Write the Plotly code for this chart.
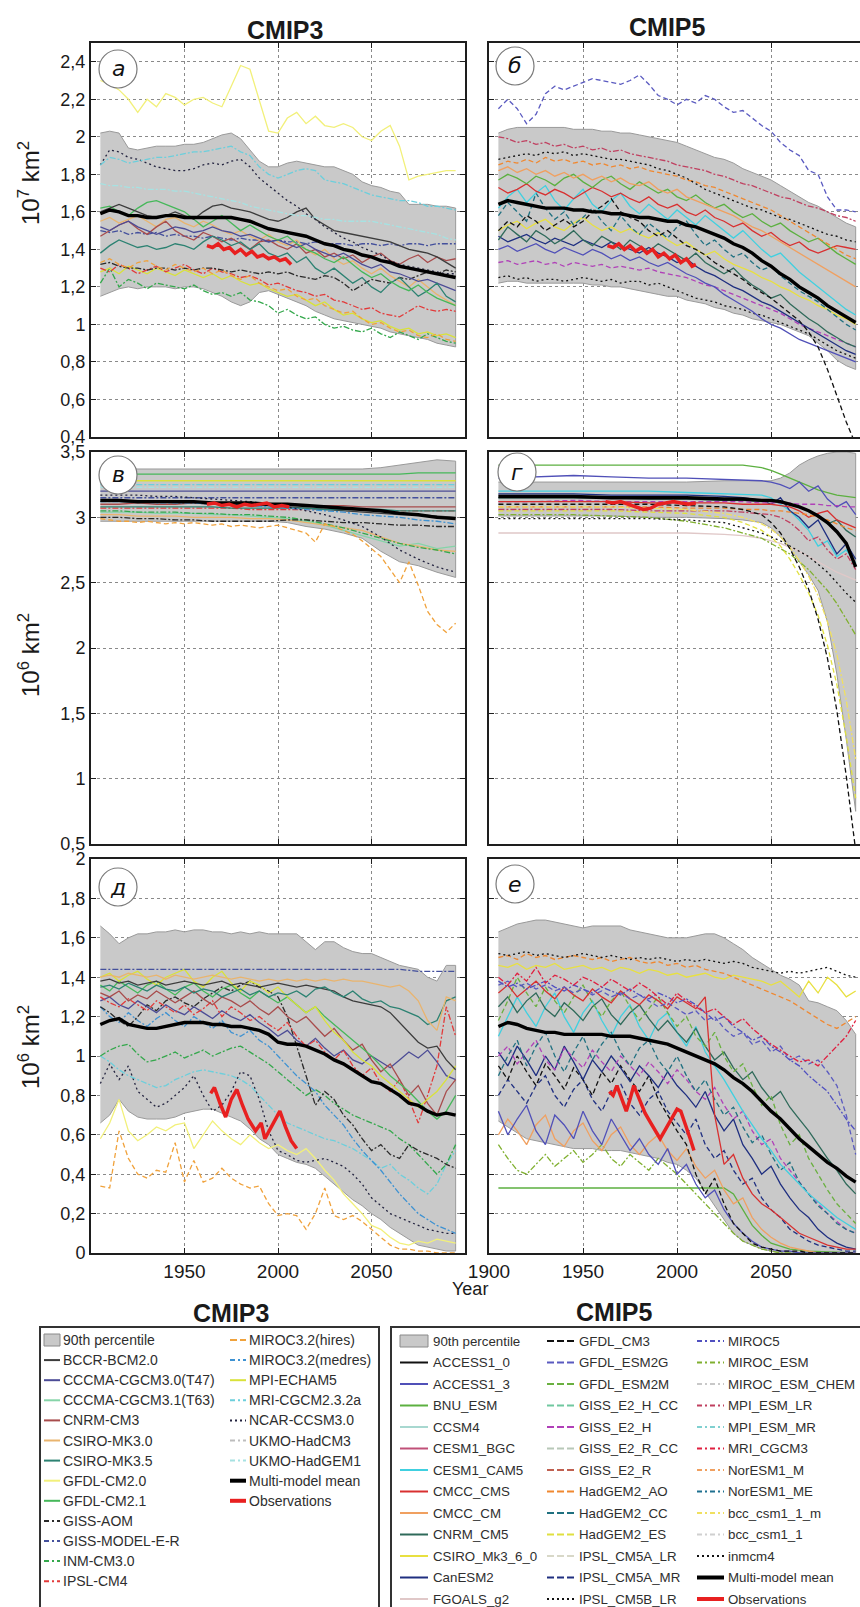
import plotly.graph_objects as go

W, H = 860, 1607

# ---------------------------------------------------------------- years
YEARS = list(range(1905, 2100, 5))          # 39 points
YEARS10 = list(range(1905, 2100, 10))       # 20 points
YEARS_G = [1905, 1925, 1945, 1965, 1985, 2005, 2025, 2035, 2045, 2050,
           2055, 2060, 2065, 2070, 2075, 2080, 2085, 2090, 2095]

# ================================================================ panel a (CMIP3, 10^7 km2)
A_UPPER = [2.02, 2.03, 2.02, 1.94, 1.93, 1.94, 1.95, 1.95, 1.95, 1.96,
           1.96, 1.97, 1.99, 2.01, 2.02, 1.99, 1.93, 1.87, 1.84, 1.84,
           1.86, 1.87, 1.86, 1.85, 1.84, 1.84, 1.82, 1.80, 1.76, 1.74,
           1.73, 1.71, 1.70, 1.64, 1.64, 1.64, 1.63, 1.63, 1.62]
A_LOWER = [1.15, 1.17, 1.19, 1.20, 1.19, 1.20, 1.20, 1.20, 1.19, 1.20,
           1.20, 1.19, 1.17, 1.15, 1.12, 1.10, 1.12, 1.17, 1.18, 1.16,
           1.14, 1.12, 1.10, 1.07, 1.05, 1.03, 1.02, 1.01, 1.00, 0.99,
           0.98, 0.96, 0.95, 0.94, 0.93, 0.92, 0.90, 0.89, 0.88]
A_MEAN = [1.59, 1.61, 1.60, 1.58, 1.58, 1.57, 1.57, 1.58, 1.58, 1.57,
          1.57, 1.57, 1.57, 1.57, 1.57, 1.56, 1.55, 1.53, 1.51, 1.50,
          1.49, 1.48, 1.47, 1.45, 1.43, 1.42, 1.40, 1.39, 1.37, 1.36,
          1.34, 1.33, 1.31, 1.30, 1.29, 1.28, 1.27, 1.26, 1.25]
A_OBS_YEARS = [1962, 1965, 1968, 1971, 1974, 1977, 1980, 1983, 1986, 1989,
               1992, 1995, 1998, 2001, 2004, 2007]
A_OBS = [1.42, 1.41, 1.43, 1.40, 1.41, 1.38, 1.40, 1.37, 1.39, 1.36,
         1.37, 1.35, 1.36, 1.34, 1.35, 1.32]
A_GFDL20 = [2.30, 2.28, 2.25, 2.20, 2.13, 2.20, 2.16, 2.23, 2.21, 2.17,
            2.20, 2.21, 2.18, 2.16, 2.27, 2.38, 2.36, 2.20, 2.03, 2.02,
            2.10, 2.13, 2.07, 2.11, 2.06, 2.05, 2.07, 2.05, 2.00, 1.98,
            2.03, 2.06, 1.95, 1.77, 1.79, 1.80, 1.81, 1.82, 1.82]
A_MRI = [1.85, 1.89, 1.88, 1.86, 1.87, 1.88, 1.89, 1.89, 1.90, 1.91,
         1.92, 1.92, 1.93, 1.94, 1.95, 1.92, 1.90, 1.84, 1.80, 1.78,
         1.80, 1.82, 1.83, 1.82, 1.77, 1.76, 1.75, 1.73, 1.71, 1.69,
         1.68, 1.67, 1.66, 1.66, 1.65, 1.63, 1.63, 1.62, 1.61]
A_HADGEM1 = [1.75, 1.74, 1.74, 1.73, 1.73, 1.72, 1.72, 1.72, 1.71, 1.71,
             1.70, 1.69, 1.68, 1.67, 1.66, 1.65, 1.63, 1.62, 1.61, 1.60,
             1.59, 1.58, 1.58, 1.57, 1.56, 1.56, 1.55, 1.55, 1.55, 1.55,
             1.54, 1.53, 1.52, 1.51, 1.50, 1.49, 1.48, 1.46, 1.45]
A_NCAR = [1.85, 1.93, 1.92, 1.89, 1.88, 1.86, 1.84, 1.83, 1.82, 1.82,
          1.83, 1.85, 1.86, 1.85, 1.87, 1.88, 1.84, 1.78, 1.74, 1.70,
          1.66, 1.63, 1.59, 1.56, 1.52, 1.49, 1.46, 1.44, 1.41, 1.39,
          1.37, 1.34, 1.32, 1.31, 1.30, 1.29, 1.28, 1.27, 1.27]
A_BCCR = [1.60, 1.62, 1.64, 1.62, 1.60, 1.58, 1.57, 1.58, 1.60, 1.58,
          1.56, 1.60, 1.63, 1.64, 1.62, 1.61, 1.60, 1.58, 1.56, 1.55,
          1.57, 1.60, 1.62, 1.56, 1.53, 1.50, 1.49, 1.48, 1.47, 1.46,
          1.45, 1.44, 1.42, 1.40, 1.39, 1.38, 1.36, 1.33, 1.30]
A_GFDL21 = [1.62, 1.63, 1.60, 1.58, 1.62, 1.65, 1.66, 1.64, 1.62, 1.60,
            1.56, 1.52, 1.55, 1.58, 1.54, 1.50, 1.53, 1.50, 1.47, 1.45,
            1.47, 1.43, 1.40, 1.38, 1.35, 1.33, 1.36, 1.32, 1.28, 1.25,
            1.27, 1.23, 1.20, 1.18, 1.21, 1.17, 1.14, 1.12, 1.10]
A_CSIRO35 = [1.38, 1.42, 1.45, 1.43, 1.41, 1.42, 1.40, 1.41, 1.43, 1.42,
             1.40, 1.44, 1.47, 1.45, 1.42, 1.44, 1.40, 1.43, 1.38, 1.36,
             1.38, 1.33, 1.36, 1.30, 1.27, 1.30, 1.26, 1.22, 1.25, 1.20,
             1.17, 1.22, 1.25, 1.20, 1.15, 1.18, 1.22, 1.15, 1.12]
A_CGCM30 = [1.52, 1.50, 1.53, 1.55, 1.52, 1.50, 1.48, 1.50, 1.52, 1.51,
            1.49, 1.50, 1.52, 1.50, 1.49, 1.47, 1.48, 1.46, 1.44, 1.45,
            1.43, 1.41, 1.43, 1.40, 1.38, 1.36, 1.38, 1.35, 1.32, 1.30,
            1.32, 1.28, 1.27, 1.25, 1.23, 1.24, 1.22, 1.20, 1.18]
A_CNRM = [1.47, 1.50, 1.53, 1.55, 1.51, 1.48, 1.52, 1.55, 1.50, 1.47,
          1.45, 1.49, 1.47, 1.44, 1.46, 1.43, 1.40, 1.44, 1.45, 1.42,
          1.40, 1.43, 1.38, 1.40, 1.36, 1.38, 1.35, 1.37, 1.33, 1.36,
          1.38, 1.34, 1.32, 1.35, 1.37, 1.33, 1.36, 1.34, 1.35]
A_CSIRO30 = [1.55, 1.57, 1.54, 1.56, 1.58, 1.55, 1.52, 1.56, 1.57, 1.54,
             1.52, 1.55, 1.53, 1.50, 1.48, 1.50, 1.47, 1.45, 1.48, 1.44,
             1.42, 1.45, 1.40, 1.37, 1.40, 1.35, 1.32, 1.34, 1.30, 1.27,
             1.30, 1.26, 1.23, 1.20, 1.24, 1.20, 1.16, 1.13, 1.10]
A_MIROCH = [1.33, 1.35, 1.32, 1.30, 1.33, 1.34, 1.31, 1.29, 1.32, 1.30,
            1.28, 1.30, 1.27, 1.29, 1.26, 1.24, 1.26, 1.22, 1.20, 1.18,
            1.19, 1.15, 1.13, 1.14, 1.10, 1.08, 1.06, 1.07, 1.03, 1.00,
            1.01, 0.98, 0.96, 0.97, 0.94, 0.93, 0.95, 0.92, 0.91]
A_GISSAOM = [1.32, 1.33, 1.31, 1.30, 1.30, 1.29, 1.30, 1.30, 1.29, 1.30,
             1.29, 1.30, 1.30, 1.29, 1.28, 1.29, 1.28, 1.27, 1.28, 1.27,
             1.28, 1.26, 1.25, 1.24, 1.26, 1.25, 1.22, 1.18, 1.21, 1.24,
             1.23, 1.22, 1.25, 1.24, 1.26, 1.28, 1.27, 1.29, 1.28]
A_INM = [1.22, 1.30, 1.20, 1.24, 1.22, 1.19, 1.22, 1.21, 1.20, 1.19,
         1.21, 1.18, 1.16, 1.17, 1.15, 1.17, 1.13, 1.12, 1.10, 1.06,
         1.08, 1.05, 1.03, 1.04, 1.00, 0.98, 0.99, 0.97, 0.96, 0.98,
         0.95, 0.93, 0.96, 0.94, 0.92, 0.95, 0.93, 0.91, 0.90]
A_IPSL = [1.30, 1.28, 1.32, 1.30, 1.27, 1.29, 1.31, 1.28, 1.30, 1.32,
          1.29, 1.27, 1.30, 1.28, 1.27, 1.25, 1.26, 1.24, 1.21, 1.22,
          1.20, 1.18, 1.17, 1.15, 1.16, 1.13, 1.12, 1.10, 1.08, 1.09,
          1.06, 1.05, 1.04, 1.07, 1.10, 1.08, 1.07, 1.08, 1.07]
A_MPI = [1.28, 1.30, 1.27, 1.31, 1.29, 1.27, 1.30, 1.28, 1.26, 1.29,
         1.27, 1.25, 1.27, 1.24, 1.26, 1.23, 1.21, 1.22, 1.19, 1.17,
         1.15, 1.16, 1.13, 1.10, 1.12, 1.08, 1.05, 1.06, 1.03, 1.01,
         1.02, 0.99, 0.97, 0.98, 0.95, 0.96, 0.94, 0.95, 0.93]
A_GISSER = [1.50, 1.49, 1.50, 1.48, 1.49, 1.48, 1.49, 1.47, 1.48, 1.47,
            1.47, 1.46, 1.47, 1.46, 1.45, 1.46, 1.45, 1.45, 1.44, 1.45,
            1.44, 1.44, 1.43, 1.44, 1.43, 1.43, 1.43, 1.42, 1.43, 1.43,
            1.42, 1.43, 1.42, 1.43, 1.43, 1.42, 1.43, 1.43, 1.43]

# ================================================================ panel б (CMIP5, 10^7 km2)
B_UPPER = [2.02, 2.04, 2.05, 2.05, 2.05, 2.05, 2.05, 2.05, 2.04, 2.04,
           2.04, 2.03, 2.03, 2.02, 2.02, 2.01, 2.00, 1.99, 1.98, 1.97,
           1.95, 1.93, 1.91, 1.89, 1.88, 1.86, 1.83, 1.81, 1.79, 1.77,
           1.74, 1.71, 1.68, 1.65, 1.63, 1.60, 1.57, 1.54, 1.52]
B_LOWER = [1.22, 1.23, 1.23, 1.22, 1.22, 1.22, 1.22, 1.22, 1.22, 1.22,
           1.21, 1.21, 1.20, 1.20, 1.19, 1.18, 1.17, 1.16, 1.15, 1.15,
           1.13, 1.12, 1.11, 1.09, 1.08, 1.06, 1.05, 1.03, 1.02, 1.01,
           1.00, 0.98, 0.96, 0.94, 0.90, 0.86, 0.81, 0.78, 0.76]
B_MEAN = [1.64, 1.66, 1.65, 1.64, 1.63, 1.62, 1.62, 1.62, 1.61, 1.61,
          1.60, 1.60, 1.59, 1.59, 1.58, 1.57, 1.57, 1.56, 1.55, 1.55,
          1.53, 1.52, 1.50, 1.48, 1.46, 1.43, 1.41, 1.38, 1.34, 1.31,
          1.27, 1.24, 1.20, 1.17, 1.14, 1.10, 1.07, 1.04, 1.01]
B_OBS_YEARS = [1963, 1966, 1969, 1972, 1975, 1978, 1981, 1984, 1987, 1990,
               1993, 1996, 1999, 2002, 2005, 2008, 2010]
B_OBS = [1.42, 1.41, 1.43, 1.40, 1.42, 1.39, 1.41, 1.38, 1.40, 1.36,
         1.38, 1.35, 1.37, 1.33, 1.35, 1.31, 1.32]
B_GFDLESM2G = [2.15, 2.20, 2.15, 2.07, 2.12, 2.23, 2.27, 2.25, 2.27, 2.29,
               2.31, 2.30, 2.29, 2.28, 2.30, 2.33, 2.28, 2.22, 2.20, 2.17,
               2.20, 2.18, 2.22, 2.20, 2.16, 2.13, 2.14, 2.10, 2.06, 2.03,
               1.97, 1.93, 1.90, 1.82, 1.80, 1.68, 1.61, 1.61, 1.60]
B_GFDLCM3 = [1.50, 1.55, 1.52, 1.58, 1.55, 1.50, 1.53, 1.56, 1.52, 1.55,
             1.60, 1.63, 1.67, 1.60, 1.57, 1.55, 1.50, 1.47, 1.50, 1.46,
             1.42, 1.40, 1.37, 1.33, 1.30, 1.27, 1.24, 1.20, 1.17, 1.14,
             1.10, 1.06, 1.02, 0.96, 0.88, 0.76, 0.62, 0.48, 0.36]
B_INMCM4 = [1.25, 1.26, 1.24, 1.25, 1.23, 1.24, 1.24, 1.23, 1.24, 1.25,
            1.24, 1.23, 1.24, 1.22, 1.23, 1.23, 1.21, 1.22, 1.20, 1.18,
            1.16, 1.14, 1.13, 1.12, 1.10, 1.09, 1.08, 1.06, 1.05, 1.03,
            1.01, 0.99, 0.97, 0.95, 0.92, 0.89, 0.86, 0.84, 0.82]
B_MPILR = [2.00, 1.99, 1.97, 1.98, 1.96, 1.97, 1.95, 1.96, 1.94, 1.95,
           1.93, 1.94, 1.92, 1.93, 1.91, 1.90, 1.89, 1.88, 1.87, 1.85,
           1.84, 1.83, 1.82, 1.80, 1.79, 1.77, 1.75, 1.74, 1.72, 1.70,
           1.68, 1.67, 1.65, 1.63, 1.62, 1.60, 1.58, 1.57, 1.55]
B_IPSLCM5BLR = [1.88, 1.89, 1.90, 1.91, 1.90, 1.92, 1.91, 1.92, 1.90, 1.91,
                1.90, 1.89, 1.88, 1.88, 1.87, 1.86, 1.85, 1.83, 1.82, 1.80,
                1.78, 1.75, 1.72, 1.70, 1.68, 1.66, 1.64, 1.62, 1.61, 1.59,
                1.57, 1.56, 1.54, 1.52, 1.50, 1.48, 1.47, 1.45, 1.44]
B_HADGEM2AO = [1.85, 1.87, 1.86, 1.88, 1.86, 1.89, 1.87, 1.88, 1.86, 1.87,
               1.85, 1.86, 1.84, 1.85, 1.83, 1.84, 1.82, 1.81, 1.80, 1.79,
               1.77, 1.76, 1.74, 1.73, 1.71, 1.69, 1.67, 1.65, 1.63, 1.61,
               1.58, 1.55, 1.52, 1.49, 1.46, 1.43, 1.40, 1.37, 1.35]
B_BNU = [1.77, 1.80, 1.78, 1.75, 1.79, 1.77, 1.74, 1.78, 1.80, 1.76,
         1.73, 1.77, 1.79, 1.75, 1.72, 1.76, 1.73, 1.70, 1.72, 1.68,
         1.66, 1.69, 1.65, 1.62, 1.64, 1.60, 1.57, 1.59, 1.55, 1.52,
         1.54, 1.50, 1.47, 1.44, 1.46, 1.42, 1.38, 1.35, 1.32]
B_CMCCCMS = [1.73, 1.70, 1.72, 1.75, 1.71, 1.69, 1.72, 1.70, 1.67, 1.70,
             1.73, 1.71, 1.68, 1.70, 1.67, 1.65, 1.68, 1.64, 1.62, 1.64,
             1.60, 1.58, 1.61, 1.57, 1.55, 1.52, 1.54, 1.50, 1.47, 1.49,
             1.45, 1.42, 1.44, 1.40, 1.38, 1.40, 1.42, 1.41, 1.40]
B_CESM1CAM5 = [1.62, 1.68, 1.72, 1.65, 1.70, 1.74, 1.66, 1.61, 1.67, 1.72,
               1.64, 1.60, 1.66, 1.70, 1.63, 1.59, 1.64, 1.60, 1.56, 1.61,
               1.57, 1.53, 1.58, 1.54, 1.50, 1.46, 1.50, 1.45, 1.40, 1.36,
               1.38, 1.33, 1.28, 1.24, 1.20, 1.16, 1.12, 1.08, 1.05]
B_CNRM = [1.45, 1.52, 1.48, 1.44, 1.50, 1.47, 1.43, 1.46, 1.50, 1.45,
          1.42, 1.47, 1.44, 1.40, 1.45, 1.42, 1.39, 1.43, 1.40, 1.37,
          1.34, 1.38, 1.33, 1.30, 1.27, 1.30, 1.25, 1.21, 1.18, 1.14,
          1.16, 1.11, 1.07, 1.03, 1.00, 0.96, 0.93, 0.90, 0.88]
B_ACCESS13 = [1.40, 1.42, 1.39, 1.41, 1.43, 1.40, 1.38, 1.41, 1.39, 1.37,
              1.40, 1.38, 1.35, 1.37, 1.34, 1.36, 1.33, 1.31, 1.33, 1.30,
              1.27, 1.25, 1.22, 1.20, 1.16, 1.13, 1.10, 1.07, 1.03, 1.00,
              0.98, 0.95, 0.92, 0.90, 0.88, 0.86, 0.84, 0.82, 0.80]
B_GISSE2H = [1.33, 1.34, 1.32, 1.33, 1.34, 1.32, 1.33, 1.31, 1.33, 1.32,
             1.31, 1.32, 1.30, 1.31, 1.30, 1.29, 1.30, 1.28, 1.27, 1.26,
             1.25, 1.23, 1.21, 1.20, 1.18, 1.16, 1.14, 1.12, 1.10, 1.08,
             1.06, 1.03, 1.00, 0.98, 0.96, 0.94, 0.92, 0.90, 0.88]
B_CSIRO = [1.50, 1.53, 1.55, 1.51, 1.54, 1.56, 1.52, 1.50, 1.54, 1.57,
           1.53, 1.50, 1.52, 1.49, 1.51, 1.48, 1.46, 1.49, 1.45, 1.42,
           1.44, 1.40, 1.37, 1.39, 1.35, 1.32, 1.30, 1.28, 1.25, 1.23,
           1.20, 1.18, 1.15, 1.13, 1.10, 1.08, 1.05, 1.03, 1.00]
B_HADGEM2CC = [1.58, 1.65, 1.60, 1.55, 1.70, 1.62, 1.56, 1.60, 1.53, 1.57,
               1.62, 1.55, 1.50, 1.58, 1.52, 1.48, 1.54, 1.50, 1.46, 1.52,
               1.55, 1.48, 1.42, 1.45, 1.40, 1.36, 1.38, 1.33, 1.29, 1.31,
               1.26, 1.22, 1.18, 1.15, 1.12, 1.08, 1.04, 1.00, 0.97]
B_CANESM2 = [1.47, 1.44, 1.46, 1.48, 1.45, 1.43, 1.46, 1.44, 1.42, 1.45,
             1.43, 1.41, 1.44, 1.42, 1.40, 1.38, 1.41, 1.38, 1.36, 1.33,
             1.35, 1.31, 1.28, 1.26, 1.23, 1.20, 1.18, 1.15, 1.12, 1.10,
             1.07, 1.04, 1.01, 0.98, 0.95, 0.92, 0.89, 0.86, 0.84]
B_CMCCCM = [1.82, 1.84, 1.81, 1.83, 1.80, 1.82, 1.79, 1.81, 1.78, 1.80,
            1.77, 1.79, 1.76, 1.78, 1.75, 1.74, 1.76, 1.72, 1.70, 1.72,
            1.68, 1.66, 1.64, 1.62, 1.60, 1.58, 1.55, 1.52, 1.50, 1.47,
            1.44, 1.41, 1.38, 1.35, 1.32, 1.29, 1.26, 1.23, 1.20]

# ================================================================ panel в (CMIP3, 10^6 km2)
C_UPPER = [3.37, 3.37, 3.37, 3.37, 3.37, 3.37, 3.37, 3.37, 3.37, 3.37,
           3.37, 3.37, 3.37, 3.37, 3.37, 3.38, 3.40, 3.42, 3.44, 3.43]
C_LOWER = [2.97, 2.97, 2.97, 2.97, 2.97, 2.97, 2.97, 2.97, 2.97, 2.97,
           2.96, 2.93, 2.91, 2.88, 2.84, 2.74, 2.66, 2.63, 2.58, 2.54]
C_MEAN = [3.13, 3.13, 3.12, 3.12, 3.12, 3.12, 3.11, 3.11, 3.11, 3.10,
          3.10, 3.09, 3.08, 3.07, 3.06, 3.05, 3.03, 3.02, 3.00, 2.99]
C_OBS_YEARS = [1962, 1966, 1970, 1974, 1978, 1982, 1986, 1990, 1994, 1998, 2002, 2006]
C_OBS = [3.10, 3.11, 3.09, 3.10, 3.08, 3.10, 3.09, 3.10, 3.11, 3.08, 3.09, 3.08]
C_GFDL21 = [3.33, 3.33, 3.33, 3.33, 3.33, 3.33, 3.33, 3.33, 3.33, 3.33,
            3.33, 3.33, 3.33, 3.33, 3.33, 3.33, 3.33, 3.34, 3.34, 3.34]
C_MPI = [3.28, 3.28, 3.28, 3.28, 3.28, 3.28, 3.28, 3.28, 3.28, 3.28,
         3.28, 3.28, 3.28, 3.28, 3.28, 3.28, 3.28, 3.28, 3.28, 3.28]
C_MRI = [3.25, 3.25, 3.25, 3.25, 3.25, 3.25, 3.25, 3.25, 3.25, 3.25,
         3.25, 3.25, 3.25, 3.25, 3.25, 3.25, 3.25, 3.25, 3.25, 3.25]
C_HADGEM1 = [3.23, 3.23, 3.23, 3.23, 3.23, 3.23, 3.23, 3.23, 3.23, 3.23,
             3.23, 3.23, 3.23, 3.23, 3.23, 3.23, 3.23, 3.23, 3.23, 3.23]
C_CGCM30 = [3.20, 3.20, 3.20, 3.20, 3.20, 3.20, 3.20, 3.20, 3.20, 3.20,
            3.20, 3.20, 3.20, 3.20, 3.20, 3.20, 3.20, 3.20, 3.20, 3.20]
C_GISSER = [3.15, 3.15, 3.15, 3.15, 3.15, 3.15, 3.15, 3.15, 3.15, 3.15,
            3.15, 3.15, 3.15, 3.15, 3.15, 3.15, 3.15, 3.15, 3.15, 3.15]
C_NCAR = [3.17, 3.17, 3.17, 3.16, 3.16, 3.15, 3.14, 3.13, 3.12, 3.10,
          3.08, 3.05, 3.02, 2.98, 2.93, 2.85, 2.75, 2.68, 2.62, 2.58]
C_CNRM = [3.10, 3.10, 3.11, 3.10, 3.10, 3.11, 3.10, 3.10, 3.10, 3.09,
          3.10, 3.09, 3.09, 3.09, 3.08, 3.08, 3.08, 3.08, 3.08, 3.08]
C_IPSL = [3.07, 3.07, 3.07, 3.07, 3.07, 3.07, 3.07, 3.07, 3.06, 3.06,
          3.06, 3.06, 3.06, 3.06, 3.06, 3.05, 3.05, 3.05, 3.05, 3.05]
C_BCCR = [3.12, 3.12, 3.11, 3.12, 3.11, 3.11, 3.10, 3.10, 3.09, 3.09,
          3.08, 3.07, 3.06, 3.05, 3.04, 3.03, 3.02, 3.02, 3.01, 3.00]
C_GISSAOM = [3.00, 3.00, 2.99, 2.99, 2.98, 2.98, 2.97, 2.97, 2.97, 2.97,
             2.98, 2.98, 2.97, 2.96, 2.96, 2.95, 2.94, 2.94, 2.93, 2.93]
C_INM = [3.05, 3.05, 3.04, 3.04, 3.04, 3.03, 3.03, 3.02, 3.02, 3.01,
         3.00, 2.98, 2.95, 2.92, 2.88, 2.84, 2.80, 2.77, 2.75, 2.72]
C_T63 = [3.04, 3.04, 3.04, 3.03, 3.03, 3.03, 3.02, 3.02, 3.01, 3.00,
         2.99, 2.97, 2.94, 2.90, 2.86, 2.82, 2.78, 2.80, 2.76, 2.78]
C_CSIRO35 = [3.08, 3.08, 3.08, 3.08, 3.08, 3.08, 3.08, 3.07, 3.07, 3.07,
             3.07, 3.07, 3.06, 3.06, 3.06, 3.06, 3.05, 3.05, 3.05, 3.05]
C_MIROCM = [3.12, 3.12, 3.12, 3.11, 3.11, 3.11, 3.10, 3.10, 3.09, 3.08,
            3.07, 3.06, 3.05, 3.04, 3.02, 3.01, 3.00, 2.98, 2.97, 2.95]
C_CSIRO30 = [3.02, 3.02, 3.01, 3.01, 3.01, 3.00, 3.00, 3.00, 2.99, 2.99,
             2.98, 2.96, 2.94, 2.92, 2.90, 2.85, 2.80, 2.78, 2.75, 2.74]
C_MIROCH = [2.99, 2.98, 2.97, 2.97, 2.96, 2.97, 2.96, 2.95, 2.96, 2.95,
            2.96, 2.95, 2.94, 2.95, 2.93, 2.94, 2.93, 2.92, 2.93, 2.94,
            2.92, 2.90, 2.88, 2.81, 2.95, 2.93, 2.90, 2.87, 2.82, 2.76,
            2.70, 2.60, 2.50, 2.66, 2.48, 2.28, 2.18, 2.12, 2.19]

# ================================================================ panel г (CMIP5, 10^6 km2)
E_UPPER = [3.27, 3.27, 3.27, 3.27, 3.27, 3.27, 3.28, 3.28, 3.28, 3.28,
           3.30, 3.34, 3.40, 3.44, 3.47, 3.49, 3.50, 3.50, 3.49]
E_LOWER = [3.01, 3.01, 3.01, 3.01, 3.00, 3.00, 2.99, 2.98, 2.96, 2.92,
           2.85, 2.76, 2.66, 2.56, 2.44, 2.20, 1.80, 1.30, 0.75]
E_MEAN = [3.16, 3.16, 3.16, 3.15, 3.15, 3.15, 3.14, 3.14, 3.13, 3.13,
          3.12, 3.10, 3.08, 3.05, 3.01, 2.96, 2.89, 2.80, 2.62]
E_OBS_YEARS = [1962, 1966, 1970, 1974, 1978, 1982, 1986, 1990, 1994, 1998, 2002, 2006, 2010]
E_OBS = [3.12, 3.11, 3.12, 3.10, 3.08, 3.06, 3.07, 3.10, 3.11, 3.12, 3.11, 3.10, 3.11]
E_BNU = [3.40, 3.40, 3.40, 3.40, 3.40, 3.40, 3.40, 3.40, 3.38, 3.36,
         3.33, 3.30, 3.27, 3.24, 3.21, 3.19, 3.17, 3.16, 3.15]
E_ACCESS13 = [3.30, 3.31, 3.32, 3.31, 3.30, 3.30, 3.29, 3.29, 3.28, 3.27,
              3.25, 3.22, 3.27, 3.20, 3.24, 3.14, 3.08, 3.12, 3.02]
E_FGOALS = [2.88, 2.88, 2.88, 2.88, 2.88, 2.88, 2.87, 2.86, 2.84, 2.82,
            2.80, 2.77, 2.74, 2.70, 2.66, 2.62, 2.58, 2.55, 2.52]
E_INMCM4 = [2.99, 2.99, 2.99, 2.99, 2.99, 2.98, 2.96, 2.92, 2.88, 2.85,
            2.82, 2.78, 2.74, 2.70, 2.64, 2.58, 2.50, 2.42, 2.35]
E_GFDLCM3 = [3.10, 3.10, 3.10, 3.10, 3.10, 3.09, 3.08, 3.06, 3.02, 2.96,
             2.88, 2.76, 2.62, 2.45, 2.22, 1.92, 1.52, 1.02, 0.45]
E_HADGEM2ES = [3.05, 3.05, 3.05, 3.05, 3.04, 3.03, 3.00, 2.96, 2.90, 2.85,
               2.78, 2.68, 2.56, 2.42, 2.25, 2.02, 1.72, 1.32, 0.85]
E_BCCM = [3.08, 3.08, 3.08, 3.08, 3.07, 3.06, 3.03, 3.00, 2.95, 2.91,
          2.85, 2.77, 2.67, 2.55, 2.40, 2.20, 1.95, 1.60, 1.15]
E_MIROCESM = [3.02, 3.02, 3.02, 3.01, 3.00, 2.97, 2.92, 2.88, 2.84, 2.80,
              2.76, 2.72, 2.66, 2.60, 2.52, 2.44, 2.34, 2.22, 2.10]
E_CESM1CAM5 = [3.20, 3.20, 3.20, 3.20, 3.20, 3.19, 3.18, 3.18, 3.17, 3.15,
               3.10, 3.05, 2.98, 2.90, 2.78, 2.82, 2.70, 2.75, 2.65]
E_CANESM2 = [3.18, 3.18, 3.18, 3.17, 3.17, 3.17, 3.16, 3.15, 3.13, 3.10,
             3.15, 3.05, 3.00, 2.92, 2.98, 2.85, 2.72, 2.80, 2.68]
E_CMCCCMS = [3.12, 3.12, 3.12, 3.12, 3.11, 3.11, 3.11, 3.10, 3.10, 3.10,
             3.09, 3.08, 3.05, 3.00, 3.03, 3.05, 2.98, 2.95, 2.92]
E_HADGEM2AO = [3.08, 3.08, 3.08, 3.08, 3.08, 3.07, 3.07, 3.06, 3.06, 3.05,
               3.05, 3.04, 3.03, 3.02, 3.00, 2.98, 2.95, 2.92, 2.90]
E_CNRM = [3.15, 3.15, 3.15, 3.15, 3.14, 3.14, 3.13, 3.13, 3.12, 3.12,
          3.11, 3.10, 3.08, 3.05, 3.02, 2.95, 2.98, 2.90, 2.85]
E_GISSE2H = [3.12, 3.12, 3.13, 3.12, 3.12, 3.12, 3.12, 3.12, 3.11, 3.11,
             3.11, 3.11, 3.10, 3.10, 3.10, 3.09, 3.09, 3.08, 3.08]
E_MPILR = [3.06, 3.06, 3.06, 3.06, 3.05, 3.05, 3.05, 3.04, 3.03, 3.02,
           3.00, 2.96, 2.90, 2.82, 2.85, 2.75, 2.68, 2.72, 2.60]

# ================================================================ panel д (CMIP3, 10^6 km2)
D_UPPER = [1.66, 1.62, 1.57, 1.60, 1.62, 1.62, 1.63, 1.63, 1.64, 1.63,
           1.64, 1.64, 1.63, 1.63, 1.62, 1.63, 1.62, 1.63, 1.62, 1.62,
           1.62, 1.62, 1.58, 1.54, 1.58, 1.58, 1.55, 1.53, 1.52, 1.52,
           1.50, 1.48, 1.46, 1.45, 1.44, 1.40, 1.38, 1.46, 1.46]
D_LOWER = [0.66, 0.70, 0.78, 0.72, 0.69, 0.68, 0.68, 0.68, 0.69, 0.71,
           0.72, 0.73, 0.73, 0.71, 0.69, 0.67, 0.63, 0.58, 0.55, 0.50,
           0.48, 0.46, 0.45, 0.43, 0.39, 0.35, 0.31, 0.27, 0.24, 0.20,
           0.17, 0.13, 0.10, 0.07, 0.04, 0.03, 0.02, 0.01, 0.01]
D_MEAN = [1.16, 1.18, 1.19, 1.16, 1.15, 1.14, 1.14, 1.15, 1.16, 1.17,
          1.17, 1.17, 1.16, 1.16, 1.15, 1.15, 1.14, 1.13, 1.11, 1.07,
          1.06, 1.06, 1.05, 1.03, 1.01, 0.98, 0.96, 0.93, 0.90, 0.87,
          0.86, 0.83, 0.80, 0.76, 0.75, 0.72, 0.70, 0.71, 0.70]
D_OBS_YEARS = [1964, 1966, 1969, 1972, 1975, 1978, 1981, 1984, 1988, 1991,
               1993, 1996, 1999, 2001, 2004, 2007, 2010]
D_OBS = [0.81, 0.84, 0.76, 0.69, 0.78, 0.83, 0.75, 0.68, 0.62, 0.66,
         0.58, 0.63, 0.68, 0.72, 0.64, 0.57, 0.53]
D_GFDL20 = [0.58, 0.66, 0.78, 0.62, 0.57, 0.60, 0.64, 0.62, 0.65, 0.66,
            0.53, 0.60, 0.67, 0.62, 0.58, 0.55, 0.60, 0.56, 0.53, 0.55,
            0.52, 0.50, 0.53, 0.48, 0.42, 0.37, 0.30, 0.25, 0.20, 0.14,
            0.12, 0.08, 0.05, 0.04, 0.06, 0.05, 0.07, 0.06, 0.05]
D_MIROCH = [0.34, 0.33, 0.62, 0.48, 0.40, 0.38, 0.42, 0.41, 0.56, 0.36,
            0.47, 0.36, 0.38, 0.43, 0.38, 0.35, 0.33, 0.34, 0.25, 0.19,
            0.20, 0.19, 0.12, 0.20, 0.33, 0.19, 0.17, 0.19, 0.16, 0.12,
            0.08, 0.04, 0.02, 0.02, 0.01, 0.01, 0.00, 0.00, 0.00]
D_GISSER = [1.44, 1.44, 1.44, 1.44, 1.44, 1.44, 1.44, 1.44, 1.44, 1.44,
            1.44, 1.44, 1.44, 1.44, 1.44, 1.44, 1.44, 1.43, 1.43, 1.43]
D_CSIRO30 = [1.40, 1.41, 1.40, 1.42, 1.41, 1.40, 1.41, 1.39, 1.41, 1.40,
             1.39, 1.40, 1.41, 1.40, 1.39, 1.40, 1.39, 1.38, 1.39, 1.38,
             1.39, 1.38, 1.39, 1.38, 1.39, 1.38, 1.39, 1.38, 1.38, 1.37,
             1.36, 1.35, 1.36, 1.33, 1.28, 1.18, 1.13, 1.30, 1.28]
D_CSIRO35 = [1.35, 1.36, 1.34, 1.37, 1.35, 1.33, 1.36, 1.34, 1.33, 1.35,
             1.32, 1.34, 1.33, 1.30, 1.32, 1.34, 1.31, 1.33, 1.30, 1.32,
             1.31, 1.33, 1.30, 1.34, 1.35, 1.32, 1.30, 1.33, 1.29, 1.27,
             1.28, 1.25, 1.24, 1.22, 1.20, 1.16, 1.18, 1.28, 1.30]
D_BCCR = [1.38, 1.39, 1.37, 1.38, 1.36, 1.37, 1.38, 1.36, 1.37, 1.38,
          1.37, 1.36, 1.37, 1.38, 1.36, 1.37, 1.36, 1.35, 1.36, 1.37,
          1.36, 1.35, 1.36, 1.35, 1.34, 1.33, 1.30, 1.28, 1.27, 1.26,
          1.25, 1.22, 1.17, 1.12, 1.07, 1.04, 1.05, 0.98, 0.93]
D_NCAR = [0.86, 0.96, 0.88, 0.95, 0.82, 0.78, 0.74, 0.76, 0.80, 0.84,
          0.90, 0.80, 0.72, 0.75, 0.82, 0.92, 0.90, 0.78, 0.62, 0.52,
          0.50, 0.47, 0.46, 0.47, 0.48, 0.46, 0.44, 0.40, 0.35, 0.28,
          0.24, 0.20, 0.18, 0.16, 0.14, 0.12, 0.11, 0.10, 0.10]
D_INM = [1.00, 1.03, 1.05, 1.06, 1.01, 0.97, 0.98, 1.00, 1.02, 0.99,
         1.01, 1.03, 1.00, 1.02, 1.04, 1.05, 1.02, 0.99, 0.96, 0.92,
         0.88, 0.84, 0.80, 0.83, 0.80, 0.76, 0.73, 0.70, 0.68, 0.66,
         0.64, 0.62, 0.58, 0.55, 0.50, 0.45, 0.40, 0.45, 0.55]
D_MRI = [1.00, 0.97, 0.93, 0.90, 0.88, 0.86, 0.84, 0.85, 0.88, 0.90,
         0.92, 0.93, 0.92, 0.91, 0.90, 0.88, 0.85, 0.80, 0.75, 0.70,
         0.66, 0.64, 0.62, 0.60, 0.58, 0.57, 0.55, 0.53, 0.50, 0.47,
         0.43, 0.45, 0.40, 0.37, 0.33, 0.30, 0.35, 0.45, 0.52]
D_MIROCM = [1.25, 1.20, 1.17, 1.22, 1.18, 1.15, 1.19, 1.22, 1.18, 1.15,
            1.20, 1.17, 1.14, 1.18, 1.12, 1.10, 1.13, 1.08, 1.05, 1.00,
            0.95, 0.90, 0.86, 0.82, 0.75, 0.70, 0.65, 0.58, 0.52, 0.47,
            0.42, 0.36, 0.30, 0.25, 0.20, 0.17, 0.14, 0.12, 0.10]
D_CNRM = [1.32, 1.30, 1.33, 1.28, 1.31, 1.29, 1.33, 1.30, 1.27, 1.30,
          1.33, 1.29, 1.26, 1.30, 1.28, 1.25, 1.28, 1.24, 1.21, 1.25,
          1.20, 1.17, 1.20, 1.15, 1.10, 1.14, 1.08, 1.03, 1.06, 0.98,
          0.92, 0.96, 0.88, 0.80, 0.85, 0.76, 0.70, 0.82, 0.88]
D_IPSL = [1.30, 1.27, 1.25, 1.29, 1.26, 1.23, 1.28, 1.25, 1.22, 1.26,
          1.21, 1.24, 1.28, 1.20, 1.25, 1.22, 1.18, 1.20, 1.16, 1.13,
          1.17, 1.10, 1.05, 1.08, 1.02, 0.98, 1.03, 0.95, 0.90, 0.94,
          0.86, 0.82, 0.88, 0.78, 0.66, 0.80, 0.95, 1.25, 1.10]
D_CGCM30 = [1.28, 1.30, 1.26, 1.24, 1.28, 1.25, 1.22, 1.26, 1.23, 1.21,
            1.25, 1.22, 1.19, 1.23, 1.20, 1.18, 1.21, 1.17, 1.14, 1.10,
            1.13, 1.08, 1.05, 1.09, 1.04, 1.00, 1.03, 0.98, 0.96, 1.00,
            0.97, 0.94, 0.98, 1.02, 0.99, 1.03, 0.97, 0.90, 0.88]
D_GFDL21 = [1.36, 1.33, 1.38, 1.35, 1.32, 1.36, 1.38, 1.34, 1.31, 1.35,
            1.37, 1.33, 1.30, 1.34, 1.36, 1.32, 1.29, 1.33, 1.30, 1.27,
            1.30, 1.26, 1.22, 1.25, 1.20, 1.16, 1.12, 1.08, 1.04, 1.00,
            0.95, 0.90, 0.86, 0.82, 0.77, 0.72, 0.68, 0.72, 0.80]
D_MPI = [1.40, 1.42, 1.38, 1.41, 1.43, 1.39, 1.36, 1.40, 1.42, 1.44,
         1.38, 1.35, 1.40, 1.43, 1.37, 1.33, 1.38, 1.36, 1.32, 1.35,
         1.30, 1.26, 1.22, 1.25, 1.18, 1.12, 1.08, 1.02, 0.98, 0.95,
         0.90, 0.86, 0.82, 0.78, 0.74, 0.78, 0.82, 0.88, 0.95]
D_GISSAOM = [1.25, 1.22, 1.18, 1.15, 1.20, 1.26, 1.23, 1.28, 1.30, 1.27,
             1.25, 1.29, 1.32, 1.35, 1.33, 1.36, 1.38, 1.35, 1.33, 1.30,
             1.20, 1.05, 0.90, 0.75, 0.82, 0.78, 0.70, 0.65, 0.58, 0.52,
             0.55, 0.50, 0.48, 0.55, 0.52, 0.50, 0.48, 0.45, 0.43]

# ================================================================ panel е (CMIP5, 10^6 km2)
F_UPPER = [1.63, 1.65, 1.67, 1.68, 1.69, 1.69, 1.68, 1.67, 1.66, 1.65,
           1.66, 1.66, 1.66, 1.66, 1.64, 1.63, 1.62, 1.61, 1.60, 1.60,
           1.60, 1.61, 1.62, 1.62, 1.60, 1.57, 1.54, 1.50, 1.47, 1.44,
           1.41, 1.39, 1.36, 1.28, 1.27, 1.25, 1.23, 1.18, 1.11]
F_LOWER = [0.67, 0.64, 0.61, 0.58, 0.57, 0.56, 0.55, 0.54, 0.53, 0.53,
           0.53, 0.52, 0.52, 0.52, 0.51, 0.50, 0.49, 0.48, 0.46, 0.45,
           0.42, 0.38, 0.31, 0.24, 0.17, 0.10, 0.06, 0.04, 0.02, 0.01,
           0.00, 0.00, 0.00, 0.00, 0.00, 0.00, 0.00, 0.00, 0.00]
F_MEAN = [1.15, 1.17, 1.16, 1.14, 1.13, 1.12, 1.12, 1.11, 1.11, 1.11,
          1.11, 1.11, 1.10, 1.10, 1.10, 1.09, 1.08, 1.07, 1.06, 1.04,
          1.02, 1.00, 0.98, 0.96, 0.93, 0.89, 0.86, 0.82, 0.77, 0.72,
          0.68, 0.63, 0.58, 0.54, 0.50, 0.46, 0.43, 0.39, 0.36]
F_OBS_YEARS = [1964, 1966, 1968, 1971, 1973, 1975, 1977, 1980, 1983, 1986,
               1989, 1991, 1994, 1997, 2000, 2002, 2005, 2007, 2009]
F_OBS = [0.82, 0.80, 0.85, 0.77, 0.72, 0.78, 0.85, 0.78, 0.71, 0.66,
         0.61, 0.58, 0.63, 0.68, 0.73, 0.72, 0.64, 0.58, 0.52]
F_BNU_YEARS = [1905, 2025, 2030, 2035, 2040, 2045, 2050, 2060, 2070, 2095]
F_BNU = [0.33, 0.33, 0.30, 0.22, 0.14, 0.09, 0.05, 0.02, 0.01, 0.00]
F_INMCM4 = [1.52, 1.51, 1.52, 1.53, 1.51, 1.52, 1.51, 1.50, 1.51, 1.52,
            1.51, 1.50, 1.51, 1.50, 1.49, 1.50, 1.49, 1.50, 1.49, 1.48,
            1.49, 1.48, 1.49, 1.48, 1.47, 1.48, 1.47, 1.45, 1.44, 1.43,
            1.42, 1.43, 1.42, 1.43, 1.44, 1.45, 1.43, 1.41, 1.40]
F_HADGEM2AO = [1.50, 1.51, 1.49, 1.52, 1.50, 1.51, 1.49, 1.50, 1.51, 1.50,
               1.49, 1.50, 1.48, 1.49, 1.50, 1.48, 1.47, 1.48, 1.46, 1.47,
               1.45, 1.46, 1.44, 1.43, 1.42, 1.40, 1.38, 1.36, 1.34, 1.32,
               1.30, 1.28, 1.25, 1.22, 1.19, 1.16, 1.14, 1.17, 1.20]
F_CSIRO = [1.46, 1.45, 1.47, 1.44, 1.46, 1.45, 1.47, 1.44, 1.45, 1.46,
           1.44, 1.45, 1.43, 1.45, 1.44, 1.42, 1.44, 1.43, 1.41, 1.42,
           1.40, 1.41, 1.42, 1.40, 1.39, 1.41, 1.40, 1.39, 1.38, 1.36,
           1.38, 1.34, 1.30, 1.38, 1.32, 1.40, 1.36, 1.30, 1.33]
F_MRI = [1.40, 1.36, 1.42, 1.38, 1.45, 1.37, 1.41, 1.39, 1.36, 1.40,
         1.38, 1.35, 1.39, 1.36, 1.33, 1.37, 1.34, 1.30, 1.26, 1.32,
         1.28, 1.25, 1.22, 1.24, 1.20, 1.16, 1.19, 1.14, 1.10, 1.06,
         1.03, 1.00, 0.97, 0.98, 0.95, 1.00, 1.05, 1.10, 1.18]
F_MIROC5 = [1.38, 1.35, 1.37, 1.34, 1.36, 1.38, 1.35, 1.33, 1.36, 1.34,
            1.32, 1.35, 1.33, 1.31, 1.34, 1.31, 1.29, 1.32, 1.30, 1.27,
            1.29, 1.26, 1.22, 1.18, 1.20, 1.15, 1.12, 1.08, 1.10, 1.05,
            1.02, 0.98, 0.95, 0.90, 0.86, 0.82, 0.75, 0.68, 0.62]
F_GFDLCM3 = [0.95, 0.88, 1.00, 0.92, 0.85, 0.96, 0.90, 0.83, 0.94, 0.88,
             0.80, 0.92, 0.86, 0.95, 0.88, 0.82, 0.90, 0.78, 0.70, 0.62,
             0.55, 0.40, 0.30, 0.38, 0.25, 0.15, 0.10, 0.05, 0.03, 0.02,
             0.01, 0.01, 0.01, 0.00, 0.00, 0.00, 0.00, 0.00, 0.00]
F_ACCESS13 = [0.72, 0.60, 0.68, 0.75, 0.62, 0.55, 0.70, 0.65, 0.58, 0.72,
              0.62, 0.55, 0.68, 0.60, 0.52, 0.58, 0.50, 0.45, 0.53, 0.40,
              0.45, 0.35, 0.28, 0.32, 0.22, 0.15, 0.10, 0.06, 0.03, 0.02,
              0.01, 0.01, 0.00, 0.00, 0.00, 0.00, 0.00, 0.00, 0.00]
F_CANESM2 = [1.02, 0.95, 1.05, 0.98, 0.90, 1.00, 0.93, 1.05, 0.97, 0.88,
             0.98, 0.92, 1.00, 0.94, 0.87, 0.95, 0.90, 0.84, 0.92, 0.85,
             0.80, 0.74, 0.82, 0.70, 0.62, 0.68, 0.55, 0.48, 0.40, 0.44,
             0.35, 0.28, 0.22, 0.18, 0.12, 0.08, 0.05, 0.03, 0.02]
F_CNRM = [1.25, 1.30, 1.22, 1.28, 1.32, 1.24, 1.20, 1.27, 1.23, 1.18,
          1.25, 1.29, 1.21, 1.16, 1.22, 1.26, 1.19, 1.13, 1.18, 1.12,
          1.07, 1.14, 1.05, 0.98, 1.02, 0.94, 0.88, 0.92, 0.84, 0.78,
          0.82, 0.74, 0.68, 0.62, 0.55, 0.48, 0.42, 0.35, 0.30]
F_GFDLESM2M = [1.18, 1.28, 1.40, 1.32, 1.25, 1.35, 1.28, 1.22, 1.30, 1.36,
               1.27, 1.20, 1.28, 1.33, 1.25, 1.18, 1.24, 1.30, 1.22, 1.15,
               1.20, 1.10, 1.05, 1.12, 1.00, 0.92, 0.96, 0.85, 0.75, 0.80,
               0.65, 0.55, 0.60, 0.48, 0.40, 0.32, 0.25, 0.20, 0.15]
F_CESM1CAM5 = [1.10, 1.20, 1.30, 1.22, 1.15, 1.25, 1.32, 1.20, 1.12, 1.22,
               1.28, 1.18, 1.10, 1.20, 1.26, 1.15, 1.08, 1.18, 1.22, 1.12,
               1.05, 1.15, 1.02, 0.95, 0.88, 0.80, 0.72, 0.65, 0.58, 0.52,
               0.45, 0.40, 0.35, 0.30, 0.26, 0.22, 0.18, 0.15, 0.12]
F_GISSE2H = [1.00, 1.05, 0.96, 1.02, 1.08, 0.98, 0.93, 1.04, 0.99, 0.94,
             1.03, 0.97, 0.92, 1.00, 0.95, 0.90, 0.97, 0.92, 0.86, 0.93,
             0.88, 0.82, 0.78, 0.84, 0.75, 0.68, 0.72, 0.62, 0.55, 0.58,
             0.48, 0.42, 0.36, 0.30, 0.25, 0.20, 0.16, 0.12, 0.10]
F_CMCCCMS = [1.32, 1.36, 1.30, 1.34, 1.38, 1.33, 1.29, 1.35, 1.31, 1.28,
             1.34, 1.30, 1.27, 1.33, 1.29, 1.26, 1.31, 1.28, 1.24, 1.30,
             1.27, 1.24, 1.30, 0.70, 0.45, 0.50, 0.38, 0.30, 0.25, 0.22,
             0.18, 0.14, 0.10, 0.08, 0.06, 0.04, 0.03, 0.02, 0.02]
F_HADGEM2CC = [0.90, 1.00, 1.08, 0.95, 1.05, 1.12, 1.00, 0.92, 1.02, 1.10,
               0.98, 1.06, 1.12, 1.02, 0.95, 1.04, 1.08, 0.98, 0.92, 1.00,
               0.90, 0.82, 0.88, 0.78, 0.70, 0.74, 0.64, 0.56, 0.60, 0.50,
               0.42, 0.46, 0.36, 0.30, 0.24, 0.20, 0.15, 0.12, 0.10]
F_CMCCCM = [0.60, 0.68, 0.62, 0.55, 0.65, 0.70, 0.58, 0.54, 0.62, 0.66,
            0.57, 0.52, 0.60, 0.64, 0.55, 0.50, 0.56, 0.60, 0.52, 0.47,
            0.53, 0.44, 0.38, 0.42, 0.32, 0.25, 0.28, 0.18, 0.12, 0.08,
            0.05, 0.03, 0.02, 0.01, 0.00, 0.00, 0.00, 0.00, 0.00]
F_IPSLMR = [0.80, 0.88, 0.82, 0.76, 0.85, 0.90, 0.80, 0.74, 0.83, 0.88,
            0.78, 0.72, 0.82, 0.86, 0.76, 0.70, 0.78, 0.82, 0.72, 0.66,
            0.60, 0.68, 0.55, 0.48, 0.52, 0.42, 0.35, 0.38, 0.28, 0.22,
            0.18, 0.12, 0.09, 0.06, 0.04, 0.03, 0.02, 0.01, 0.01]
F_GFDLESM2G = [1.36, 1.38, 1.35, 1.37, 1.34, 1.36, 1.33, 1.35, 1.32, 1.34,
               1.31, 1.33, 1.30, 1.32, 1.29, 1.31, 1.28, 1.25, 1.27, 1.24,
               1.21, 1.23, 1.18, 1.20, 1.14, 1.10, 1.12, 1.06, 1.08, 1.02,
               1.05, 0.98, 1.00, 0.96, 0.98, 0.92, 0.85, 0.70, 0.50]
F_MIROCESM = [0.55, 0.48, 0.42, 0.40, 0.45, 0.50, 0.44, 0.48, 0.52, 0.46,
              0.50, 0.55, 0.48, 0.44, 0.50, 0.46, 0.42, 0.48, 0.44, 0.40,
              0.35, 0.30, 0.25, 0.20, 0.15, 0.10, 0.06, 0.04, 0.02, 0.01,
              0.00, 0.00, 0.00, 0.00, 0.00, 0.00, 0.00, 0.00, 0.00]

# ---------------------------------------------------------------- legend names
CMIP3_COL1 = ["90th percentile", "BCCR-BCM2.0", "CCCMA-CGCM3.0(T47)", "CCCMA-CGCM3.1(T63)",
              "CNRM-CM3", "CSIRO-MK3.0", "CSIRO-MK3.5", "GFDL-CM2.0", "GFDL-CM2.1",
              "GISS-AOM", "GISS-MODEL-E-R", "INM-CM3.0", "IPSL-CM4"]
CMIP3_COL2 = ["MIROC3.2(hires)", "MIROC3.2(medres)", "MPI-ECHAM5", "MRI-CGCM2.3.2a",
              "NCAR-CCSM3.0", "UKMO-HadCM3", "UKMO-HadGEM1", "Multi-model mean", "Observations"]
CMIP5_COL1 = ["90th percentile", "ACCESS1_0", "ACCESS1_3", "BNU_ESM", "CCSM4", "CESM1_BGC",
              "CESM1_CAM5", "CMCC_CMS", "CMCC_CM", "CNRM_CM5", "CSIRO_Mk3_6_0", "CanESM2", "FGOALS_g2"]
CMIP5_COL2 = ["GFDL_CM3", "GFDL_ESM2G", "GFDL_ESM2M", "GISS_E2_H_CC", "GISS_E2_H", "GISS_E2_R_CC",
              "GISS_E2_R", "HadGEM2_AO", "HadGEM2_CC", "HadGEM2_ES", "IPSL_CM5A_LR",
              "IPSL_CM5A_MR", "IPSL_CM5B_LR"]
CMIP5_COL3 = ["MIROC5", "MIROC_ESM", "MIROC_ESM_CHEM", "MPI_ESM_LR", "MPI_ESM_MR", "MRI_CGCM3",
              "NorESM1_M", "NorESM1_ME", "bcc_csm1_1_m", "bcc_csm1_1", "inmcm4",
              "Multi-model mean", "Observations"]

# ---------------------------------------------------------------- styles
STYLE = {
    "BCCR-BCM2.0": ("#3c3c3c", "solid"), "CCCMA-CGCM3.0(T47)": ("#4c4c96", "solid"),
    "CCCMA-CGCM3.1(T63)": ("#86d4a8", "solid"), "CNRM-CM3": ("#a84c4c", "solid"),
    "CSIRO-MK3.0": ("#e9b46e", "solid"), "CSIRO-MK3.5": ("#2c8272", "solid"),
    "GFDL-CM2.0": ("#f2f07a", "solid"), "GFDL-CM2.1": ("#46b85a", "solid"),
    "GISS-AOM": ("#2a2a2a", "dashdot"), "GISS-MODEL-E-R": ("#44509c", "dashdot"),
    "INM-CM3.0": ("#34a84c", "dashdot"), "IPSL-CM4": ("#e23a3a", "dashdot"),
    "MIROC3.2(hires)": ("#f0a23c", "dash"), "MIROC3.2(medres)": ("#3e92d2", "dashdot"),
    "MPI-ECHAM5": ("#d9e23a", "solid"), "MRI-CGCM2.3.2a": ("#6ccfdc", "dashdot"),
    "NCAR-CCSM3.0": ("#22223e", "dot"), "UKMO-HadCM3": ("#bdbdbd", "dashdot"),
    "UKMO-HadGEM1": ("#a6e2e2", "dashdot"),
    "ACCESS1_0": ("#111111", "solid"), "ACCESS1_3": ("#5050b8", "solid"),
    "BNU_ESM": ("#5cb040", "solid"), "CCSM4": ("#a8d8d0", "solid"),
    "CESM1_BGC": ("#c05078", "solid"), "CESM1_CAM5": ("#40d0e0", "solid"),
    "CMCC_CMS": ("#d83030", "solid"), "CMCC_CM": ("#f0a060", "solid"),
    "CNRM_CM5": ("#2f6a5a", "solid"), "CSIRO_Mk3_6_0": ("#e8e040", "solid"),
    "CanESM2": ("#1f2f80", "solid"), "FGOALS_g2": ("#e0c8c8", "solid"),
    "GFDL_CM3": ("#111111", "dash"), "GFDL_ESM2G": ("#5a5ac0", "dash"),
    "GFDL_ESM2M": ("#6ab040", "dash"), "GISS_E2_H_CC": ("#70c8a0", "dash"),
    "GISS_E2_H": ("#b040b8", "dash"), "GISS_E2_R_CC": ("#b8c8b8", "dash"),
    "GISS_E2_R": ("#c06050", "dash"), "HadGEM2_AO": ("#f08830", "dash"),
    "HadGEM2_CC": ("#1f7080", "dash"), "HadGEM2_ES": ("#e0e040", "dash"),
    "IPSL_CM5A_LR": ("#d8d8c8", "dash"), "IPSL_CM5A_MR": ("#1f2f80", "dash"),
    "IPSL_CM5B_LR": ("#111111", "dot"),
    "MIROC5": ("#5050c0", "dashdot"), "MIROC_ESM": ("#80b030", "dashdot"),
    "MIROC_ESM_CHEM": ("#c8c8c8", "dashdot"), "MPI_ESM_LR": ("#c04060", "dashdot"),
    "MPI_ESM_MR": ("#80d0d0", "dashdot"), "MRI_CGCM3": ("#e02040", "dashdot"),
    "NorESM1_M": ("#f0a060", "dashdot"), "NorESM1_ME": ("#1f7090", "dashdot"),
    "bcc_csm1_1_m": ("#f0e060", "dashdot"), "bcc_csm1_1": ("#d0d0d0", "dashdot"),
    "inmcm4": ("#111111", "dot"),
    "Multi-model mean": ("#000000", "solid"), "Observations": ("#e82020", "solid"),
}
DASH = {"solid": "solid", "dash": "5px,3px", "dot": "2px,3px", "dashdot": "6px,2px,2px,2px"}
LEG_DASH = {"solid": "solid", "dash": "7px,3px", "dot": "2px,3px", "dashdot": "5px,3px,2px,3px"}

# ---------------------------------------------------------------- panels
PANELS = [
    dict(ax=("x", "y"), years=YEARS, up=A_UPPER, lo=A_LOWER, mean=A_MEAN,
         obs=(A_OBS_YEARS, A_OBS), models=[
            ("GISS-MODEL-E-R", YEARS, A_GISSER), ("INM-CM3.0", YEARS, A_INM),
            ("MPI-ECHAM5", YEARS, A_MPI), ("IPSL-CM4", YEARS, A_IPSL),
            ("GISS-AOM", YEARS, A_GISSAOM), ("MIROC3.2(hires)", YEARS, A_MIROCH),
            ("CSIRO-MK3.0", YEARS, A_CSIRO30), ("CNRM-CM3", YEARS, A_CNRM),
            ("CCCMA-CGCM3.0(T47)", YEARS, A_CGCM30), ("CSIRO-MK3.5", YEARS, A_CSIRO35),
            ("GFDL-CM2.1", YEARS, A_GFDL21), ("BCCR-BCM2.0", YEARS, A_BCCR),
            ("NCAR-CCSM3.0", YEARS, A_NCAR), ("UKMO-HadGEM1", YEARS, A_HADGEM1),
            ("MRI-CGCM2.3.2a", YEARS, A_MRI), ("GFDL-CM2.0", YEARS, A_GFDL20)]),
    dict(ax=("x2", "y2"), years=YEARS, up=B_UPPER, lo=B_LOWER, mean=B_MEAN,
         obs=(B_OBS_YEARS, B_OBS), models=[
            ("inmcm4", YEARS, B_INMCM4), ("GISS_E2_H", YEARS, B_GISSE2H),
            ("ACCESS1_3", YEARS, B_ACCESS13), ("CanESM2", YEARS, B_CANESM2),
            ("CNRM_CM5", YEARS, B_CNRM), ("CSIRO_Mk3_6_0", YEARS, B_CSIRO),
            ("HadGEM2_CC", YEARS, B_HADGEM2CC), ("CESM1_CAM5", YEARS, B_CESM1CAM5),
            ("CMCC_CMS", YEARS, B_CMCCCMS), ("BNU_ESM", YEARS, B_BNU),
            ("CMCC_CM", YEARS, B_CMCCCM), ("HadGEM2_AO", YEARS, B_HADGEM2AO),
            ("IPSL_CM5B_LR", YEARS, B_IPSLCM5BLR), ("MPI_ESM_LR", YEARS, B_MPILR),
            ("GFDL_CM3", YEARS, B_GFDLCM3), ("GFDL_ESM2G", YEARS, B_GFDLESM2G)]),
    dict(ax=("x3", "y3"), years=YEARS10, up=C_UPPER, lo=C_LOWER, mean=C_MEAN,
         obs=(C_OBS_YEARS, C_OBS), models=[
            ("GFDL-CM2.1", YEARS10, C_GFDL21), ("MPI-ECHAM5", YEARS10, C_MPI),
            ("MRI-CGCM2.3.2a", YEARS10, C_MRI), ("UKMO-HadGEM1", YEARS10, C_HADGEM1),
            ("CCCMA-CGCM3.0(T47)", YEARS10, C_CGCM30), ("GISS-MODEL-E-R", YEARS10, C_GISSER),
            ("CNRM-CM3", YEARS10, C_CNRM), ("IPSL-CM4", YEARS10, C_IPSL),
            ("BCCR-BCM2.0", YEARS10, C_BCCR), ("CSIRO-MK3.5", YEARS10, C_CSIRO35),
            ("MIROC3.2(medres)", YEARS10, C_MIROCM), ("CCCMA-CGCM3.1(T63)", YEARS10, C_T63),
            ("CSIRO-MK3.0", YEARS10, C_CSIRO30), ("INM-CM3.0", YEARS10, C_INM),
            ("GISS-AOM", YEARS10, C_GISSAOM), ("NCAR-CCSM3.0", YEARS10, C_NCAR),
            ("MIROC3.2(hires)", YEARS, C_MIROCH)]),
    dict(ax=("x4", "y4"), years=YEARS_G, up=E_UPPER, lo=E_LOWER, mean=E_MEAN,
         obs=(E_OBS_YEARS, E_OBS), models=[
            ("FGOALS_g2", YEARS_G, E_FGOALS), ("BNU_ESM", YEARS_G, E_BNU),
            ("ACCESS1_3", YEARS_G, E_ACCESS13), ("CESM1_CAM5", YEARS_G, E_CESM1CAM5),
            ("CanESM2", YEARS_G, E_CANESM2), ("CNRM_CM5", YEARS_G, E_CNRM),
            ("GISS_E2_H", YEARS_G, E_GISSE2H), ("CMCC_CMS", YEARS_G, E_CMCCCMS),
            ("HadGEM2_AO", YEARS_G, E_HADGEM2AO), ("MPI_ESM_LR", YEARS_G, E_MPILR),
            ("MIROC_ESM", YEARS_G, E_MIROCESM), ("inmcm4", YEARS_G, E_INMCM4),
            ("bcc_csm1_1_m", YEARS_G, E_BCCM), ("HadGEM2_ES", YEARS_G, E_HADGEM2ES),
            ("GFDL_CM3", YEARS_G, E_GFDLCM3)]),
    dict(ax=("x5", "y5"), years=YEARS, up=D_UPPER, lo=D_LOWER, mean=D_MEAN,
         obs=(D_OBS_YEARS, D_OBS), models=[
            ("MIROC3.2(hires)", YEARS, D_MIROCH), ("GFDL-CM2.0", YEARS, D_GFDL20),
            ("NCAR-CCSM3.0", YEARS, D_NCAR), ("MRI-CGCM2.3.2a", YEARS, D_MRI),
            ("INM-CM3.0", YEARS, D_INM), ("MIROC3.2(medres)", YEARS, D_MIROCM),
            ("GISS-AOM", YEARS, D_GISSAOM), ("CCCMA-CGCM3.0(T47)", YEARS, D_CGCM30),
            ("IPSL-CM4", YEARS, D_IPSL), ("CNRM-CM3", YEARS, D_CNRM),
            ("GFDL-CM2.1", YEARS, D_GFDL21), ("MPI-ECHAM5", YEARS, D_MPI),
            ("BCCR-BCM2.0", YEARS, D_BCCR), ("CSIRO-MK3.5", YEARS, D_CSIRO35),
            ("CSIRO-MK3.0", YEARS, D_CSIRO30), ("GISS-MODEL-E-R", YEARS10, D_GISSER)]),
    dict(ax=("x6", "y6"), years=YEARS, up=F_UPPER, lo=F_LOWER, mean=F_MEAN,
         obs=(F_OBS_YEARS, F_OBS), models=[
            ("BNU_ESM", F_BNU_YEARS, F_BNU), ("MIROC_ESM", YEARS, F_MIROCESM),
            ("CMCC_CM", YEARS, F_CMCCCM), ("ACCESS1_3", YEARS, F_ACCESS13),
            ("IPSL_CM5A_MR", YEARS, F_IPSLMR), ("GFDL_CM3", YEARS, F_GFDLCM3),
            ("CanESM2", YEARS, F_CANESM2), ("GISS_E2_H", YEARS, F_GISSE2H),
            ("HadGEM2_CC", YEARS, F_HADGEM2CC), ("CESM1_CAM5", YEARS, F_CESM1CAM5),
            ("CNRM_CM5", YEARS, F_CNRM), ("GFDL_ESM2M", YEARS, F_GFDLESM2M),
            ("CMCC_CMS", YEARS, F_CMCCCMS), ("GFDL_ESM2G", YEARS, F_GFDLESM2G),
            ("MIROC5", YEARS, F_MIROC5), ("MRI_CGCM3", YEARS, F_MRI),
            ("CSIRO_Mk3_6_0", YEARS, F_CSIRO), ("HadGEM2_AO", YEARS, F_HADGEM2AO),
            ("inmcm4", YEARS, F_INMCM4)]),
]

FONT = "Arial, 'Liberation Sans', sans-serif"


def fx(p):
    return p / W


def fy(p):
    return 1 - p / H


fig = go.Figure()

for pn in PANELS:
    xa, ya = pn["ax"]
    yrs = pn["years"]
    assert len(yrs) == len(pn["up"]) == len(pn["lo"]) == len(pn["mean"]), xa
    fig.add_trace(go.Scatter(
        x=yrs + yrs[::-1], y=pn["up"] + pn["lo"][::-1], mode="lines", fill="toself",
        fillcolor="#c9c9c9", line=dict(color="#9a9a9a", width=1),
        hoverinfo="skip", showlegend=False, xaxis=xa, yaxis=ya))
    for name, xs, ys in pn["models"]:
        assert len(xs) == len(ys), name
        col, dsh = STYLE[name]
        fig.add_trace(go.Scatter(
            x=xs, y=ys, mode="lines", name=name, showlegend=False,
            line=dict(color=col, width=1.3, dash=DASH[dsh]), xaxis=xa, yaxis=ya))
    fig.add_trace(go.Scatter(x=yrs, y=pn["mean"], mode="lines", showlegend=False,
                             line=dict(color="#000000", width=3.4), xaxis=xa, yaxis=ya))
    oy, ov = pn["obs"]
    assert len(oy) == len(ov)
    fig.add_trace(go.Scatter(x=oy, y=ov, mode="lines", showlegend=False,
                             line=dict(color="#e82020", width=3.5), xaxis=xa, yaxis=ya))

# ---------------------------------------------------------------- axes
LEFT_DOM = [fx(91), fx(465)]
RIGHT_DOM = [fx(489), 1.0]
ROW_DOM = [[fy(437), fy(43)], [fy(844), fy(452)], [fy(1253), fy(859)]]
YRANGES = [[0.4, 2.5], [0.5, 3.5], [0.0, 2.0]]
YTICKS = [
    ([0.4, 0.6, 0.8, 1.0, 1.2, 1.4, 1.6, 1.8, 2.0, 2.2, 2.4],
     ["0,4", "0,6", "0,8", "1", "1,2", "1,4", "1,6", "1,8", "2", "2,2", "2,4"]),
    ([0.5, 1.0, 1.5, 2.0, 2.5, 3.0, 3.5], ["0,5", "1", "1,5", "2", "2,5", "3", "3,5"]),
    ([0.0, 0.2, 0.4, 0.6, 0.8, 1.0, 1.2, 1.4, 1.6, 1.8, 2.0],
     ["0", "0,2", "0,4", "0,6", "0,8", "1", "1,2", "1,4", "1,6", "1,8", "2"]),
]

common = dict(showline=True, linecolor="#1e1e1e", linewidth=2, ticks="inside", ticklen=5,
              tickcolor="#1e1e1e", showgrid=True, gridcolor="#8a8a8a", griddash="dot",
              gridwidth=1, zeroline=False, automargin=False)

lay = {}
for r in range(3):
    for c in range(2):
        idx = r * 2 + c + 1
        xk = "xaxis" if idx == 1 else f"xaxis{idx}"
        yk = "yaxis" if idx == 1 else f"yaxis{idx}"
        xid = "x" if idx == 1 else f"x{idx}"
        yid = "y" if idx == 1 else f"y{idx}"
        if c == 0:
            xax = dict(common, domain=LEFT_DOM, range=[1900, 2100],
                       tickvals=[1950, 2000, 2050],
                       ticktext=["1950", "2000", "2050"], mirror="ticks")
        else:
            xax = dict(common, domain=RIGHT_DOM, range=[1900, 2097.3],
                       tickvals=[1900, 1950, 2000, 2050],
                       ticktext=["1900", "1950", "2000", "2050"], mirror="ticks")
        xax["anchor"] = yid
        xax["showticklabels"] = (r == 2)
        xax["tickfont"] = dict(family=FONT, size=19, color="#1a1a1a")
        tv, tt = YTICKS[r]
        yax = dict(common, domain=ROW_DOM[r], range=YRANGES[r], tickvals=tv, ticktext=tt,
                   anchor=xid, mirror=("ticks" if c == 0 else False),
                   showticklabels=(c == 0),
                   tickfont=dict(family=FONT, size=18, color="#1a1a1a"))
        lay[xk] = xax
        lay[yk] = yax

fig.update_layout(**lay)

# ---------------------------------------------------------------- annotations & shapes
ann = []
shapes = []


def text(x, y, s, size, bold=False, anchor="center", color="#1a1a1a", angle=0):
    ann.append(dict(x=fx(x), y=fy(y), xref="paper", yref="paper", text=(f"<b>{s}</b>" if bold else s),
                    showarrow=False, xanchor=anchor, yanchor="middle", textangle=angle,
                    font=dict(family=FONT, size=size, color=color)))


text(285, 30, "CMIP3", 25, bold=True)
text(667, 27, "CMIP5", 25, bold=True)
text(29, 183, "10<sup>7</sup> km<sup>2</sup>", 24, angle=-90)
text(29, 655, "10<sup>6</sup> km<sup>2</sup>", 24, angle=-90)
text(29, 1047, "10<sup>6</sup> km<sup>2</sup>", 24, angle=-90)
text(470, 1289, "Year", 18)

# panel letters
LETTERS = [("а", 118, 69), ("б", 515, 66), ("в", 118, 475),
           ("г", 517, 472), ("д", 118, 887), ("е", 515, 884)]
for ch, cx, cy in LETTERS:
    r = 19
    shapes.append(dict(type="circle", xref="paper", yref="paper",
                       x0=fx(cx - r), x1=fx(cx + r), y0=fy(cy + r), y1=fy(cy - r),
                       fillcolor="white", line=dict(color="#7a7a7a", width=1.2), layer="above"))
    ann.append(dict(x=fx(cx), y=fy(cy), xref="paper", yref="paper", text=f"<i>{ch}</i>",
                    showarrow=False, xanchor="center", yanchor="middle",
                    font=dict(family="'DejaVu Sans', Arial", size=22, color="#111")))

# legend boxes
text(231, 1313, "CMIP3", 25, bold=True)
text(614, 1312, "CMIP5", 25, bold=True)
shapes.append(dict(type="rect", xref="paper", yref="paper", x0=fx(40), x1=fx(379),
                   y0=fy(1625), y1=fy(1327), line=dict(color="#333", width=2),
                   fillcolor="rgba(0,0,0,0)", layer="above"))
shapes.append(dict(type="rect", xref="paper", yref="paper", x0=fx(391), x1=fx(880),
                   y0=fy(1625), y1=fy(1327), line=dict(color="#333", width=2),
                   fillcolor="rgba(0,0,0,0)", layer="above"))


def legend_column(names, x_s0, x_s1, x_t, y0, dy, fsize):
    for i, nm in enumerate(names):
        yy = y0 + i * dy
        if nm == "90th percentile":
            shapes.append(dict(type="rect", xref="paper", yref="paper",
                               x0=fx(x_s0), x1=fx(x_s1), y0=fy(yy + 6), y1=fy(yy - 6),
                               fillcolor="#c9c9c9", line=dict(color="#8a8a8a", width=1),
                               layer="above"))
        else:
            col, dsh = STYLE[nm]
            wd = 4 if nm in ("Multi-model mean", "Observations") else 2
            shapes.append(dict(type="line", xref="paper", yref="paper",
                               x0=fx(x_s0), x1=fx(x_s1), y0=fy(yy), y1=fy(yy),
                               line=dict(color=col, width=wd, dash=LEG_DASH[dsh]),
                               layer="above"))
        text(x_t, yy, nm, fsize, anchor="left", color="#2e2e2e")


legend_column(CMIP3_COL1, 44, 60, 61, 1340, 20.1, 14)
legend_column(CMIP3_COL2, 230, 246, 247, 1340, 20.1, 14)
legend_column(CMIP5_COL1, 400, 428, 431, 1341, 21.5, 13.3)
legend_column(CMIP5_COL2, 547, 575, 577, 1341, 21.5, 13.3)
legend_column(CMIP5_COL3, 697, 724, 726, 1341, 21.5, 13.3)

fig.update_layout(
    width=W, height=H, margin=dict(l=0, r=0, t=0, b=0, pad=0, autoexpand=False),
    paper_bgcolor="white", plot_bgcolor="white", showlegend=False,
    annotations=ann, shapes=shapes, font=dict(family=FONT),
)

fig.write_html("out.html")
